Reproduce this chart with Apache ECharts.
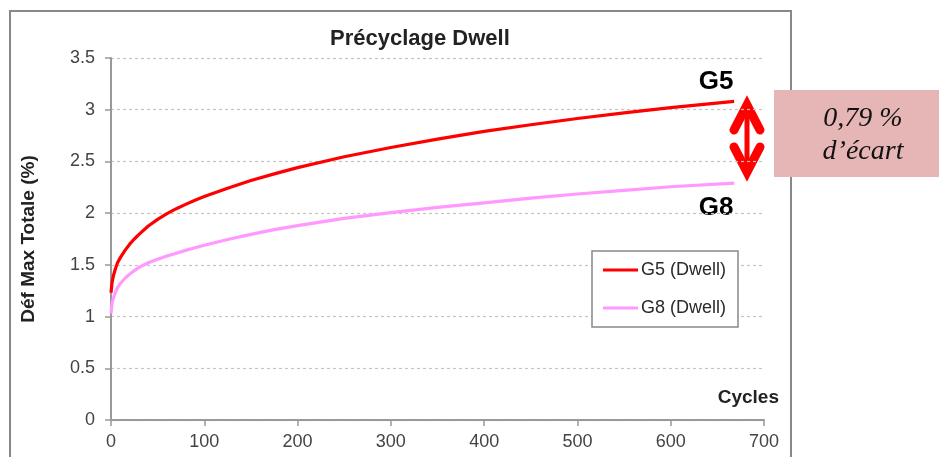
<!DOCTYPE html>
<html>
<head>
<meta charset="utf-8">
<script src="https://cdn.jsdelivr.net/npm/echarts@6/dist/echarts.min.js"></script>
<style>
html,body{margin:0;padding:0;background:#fff;}
#chart{width:939px;height:457px;}
</style>
</head>
<body>
<div id="chart"></div>
<script>
// Data
const cycles   = [0, 1, 2, 3, 5, 7, 10, 15, 20, 25, 30, 40, 50, 60, 70, 80, 90, 100, 125, 150, 175, 200, 250, 300, 350, 400, 450, 500, 550, 600, 668];
const g5Values = [1.23, 1.32, 1.37, 1.41, 1.47, 1.52, 1.57, 1.64, 1.70, 1.75, 1.795, 1.875, 1.94, 1.995, 2.043, 2.085, 2.125, 2.16, 2.24, 2.315, 2.38, 2.44, 2.545, 2.635, 2.715, 2.79, 2.855, 2.915, 2.97, 3.02, 3.08];
const g8Values = [1.03, 1.12, 1.16, 1.19, 1.24, 1.28, 1.32, 1.37, 1.41, 1.445, 1.475, 1.52, 1.555, 1.585, 1.613, 1.64, 1.665, 1.69, 1.745, 1.795, 1.84, 1.88, 1.95, 2.005, 2.055, 2.10, 2.145, 2.185, 2.22, 2.255, 2.29];
const seriesNames = ['G5 (Dwell)', 'G8 (Dwell)'];
const xTicks = [0, 100, 200, 300, 400, 500, 600, 700];
const yTicks = [0, 0.5, 1, 1.5, 2, 2.5, 3, 3.5];

const FONT = '"Liberation Sans", Arial, sans-serif';
const SERIF = '"Liberation Serif", "Times New Roman", serif';

const g5Data = cycles.map((c, i) => [c, g5Values[i]]);
const g8Data = cycles.map((c, i) => [c, g8Values[i]]);

const chart = echarts.init(document.getElementById('chart'), null, {renderer: 'canvas'});
chart.setOption({
  animation: false,
  backgroundColor: '#fff',
  title: {
    text: 'Précyclage Dwell',
    left: 330, top: 28, padding: 0,
    textStyle: {fontFamily: FONT, fontSize: 22, fontWeight: 'bold', color: '#222'}
  },
  grid: {left: 111, top: 58, right: 175, bottom: 37},
  legend: {
    orient: 'vertical',
    left: 592, top: 251,
    padding: [10, 12, 10, 11],
    itemGap: 20,
    itemWidth: 35, itemHeight: 3,
    icon: 'rect',
    borderColor: '#888', borderWidth: 1.5,
    backgroundColor: '#fff',
    textStyle: {fontFamily: FONT, fontSize: 18, color: '#2a2a2a', lineHeight: 18, padding: [0, 0, 0, -2]},
    data: seriesNames
  },
  xAxis: {
    type: 'value',
    min: xTicks[0], max: xTicks[xTicks.length - 1], interval: 100,
    axisLine: {lineStyle: {color: '#999', width: 2}},
    axisTick: {show: true, length: 6, lineStyle: {color: '#999', width: 1.5}},
    axisLabel: {fontFamily: FONT, fontSize: 18, color: '#444', margin: 13},
    splitLine: {show: false}
  },
  yAxis: {
    type: 'value',
    min: yTicks[0], max: yTicks[yTicks.length - 1], interval: 0.5,
    name: 'Déf Max Totale (%)',
    nameLocation: 'middle', nameGap: 73,
    nameTextStyle: {fontFamily: FONT, fontSize: 19, fontWeight: 'bold', color: '#222'},
    axisLine: {show: true, lineStyle: {color: '#999', width: 2}},
    axisTick: {show: true, length: 6, lineStyle: {color: '#999', width: 1.5}},
    axisLabel: {fontFamily: FONT, fontSize: 18, color: '#444', margin: 16},
    splitLine: {show: true, lineStyle: {color: '#c4c4c4', type: [3, 3], width: 1.2}}
  },
  series: [
    {name: seriesNames[0], type: 'line', data: g5Data, smooth: false, showSymbol: false,
     lineStyle: {color: '#ff0000', width: 3.2, join: 'round'}, itemStyle: {color: '#ff0000'}, z: 3},
    {name: seriesNames[1], type: 'line', data: g8Data, smooth: false, showSymbol: false,
     lineStyle: {color: '#ff99ff', width: 3.2, join: 'round'}, itemStyle: {color: '#ff99ff'}, z: 2}
  ],
  graphic: [
    {type: 'rect', shape: {x: 10, y: 11, width: 781, height: 470}, style: {fill: 'none', stroke: '#888', lineWidth: 2}, z: 0, silent: true},
    {type: 'text', x: 779, y: 398, style: {text: 'Cycles', font: 'bold 19px ' + FONT, fill: '#222', textAlign: 'right', textVerticalAlign: 'middle'}},
    {type: 'text', x: 716, y: 82, style: {text: 'G5', font: 'bold 26px ' + FONT, fill: '#000', textAlign: 'center', textVerticalAlign: 'middle'}},
    {type: 'text', x: 716, y: 208, style: {text: 'G8', font: 'bold 26px ' + FONT, fill: '#000', textAlign: 'center', textVerticalAlign: 'middle'}},
    {type: 'line', shape: {x1: 747, y1: 106, x2: 747, y2: 172}, style: {stroke: '#ff0000', lineWidth: 5}},
    {type: 'polyline', shape: {points: [[734, 130], [747, 105], [760, 130]]}, style: {stroke: '#ff0000', lineWidth: 9, lineCap: 'round', lineJoin: 'miter', fill: 'none'}},
    {type: 'polyline', shape: {points: [[734, 147], [747, 172], [760, 147]]}, style: {stroke: '#ff0000', lineWidth: 9, lineCap: 'round', lineJoin: 'miter', fill: 'none'}},
    {type: 'rect', shape: {x: 774, y: 90, width: 170, height: 87}, style: {fill: '#e5b6b5'}, z: 10},
    {type: 'text', x: 863, y: 119, z: 11, style: {text: '0,79 %', font: 'italic 28px ' + SERIF, fill: '#111', textAlign: 'center', textVerticalAlign: 'middle'}},
    {type: 'text', x: 863, y: 152, z: 11, style: {text: 'd\u2019écart', font: 'italic 28px ' + SERIF, fill: '#111', textAlign: 'center', textVerticalAlign: 'middle'}}
  ]
});
</script>
</body>
</html>
